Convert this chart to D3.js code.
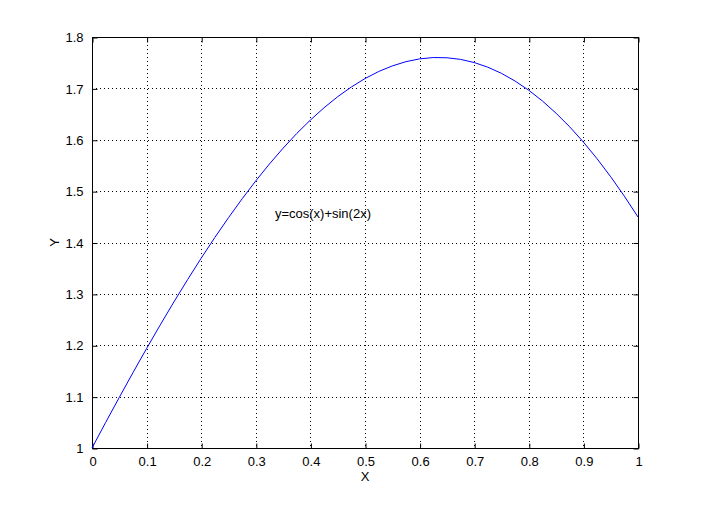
<!DOCTYPE html>
<html><head><meta charset="utf-8">
<script src="https://cdn.jsdelivr.net/npm/d3@7"></script>
<style>body{margin:0;background:#fff}svg{display:block}text{font-family:Arial,"Liberation Sans",Helvetica,sans-serif}</style>
</head><body><svg id="c" width="705" height="505"></svg>
<script>
const xValues=[0,0.025,0.05,0.075,0.1,0.125,0.15,0.175,0.2,0.225,0.25,0.275,0.3,0.325,0.35,0.375,0.4,0.425,0.45,0.475,0.5,0.525,0.55,0.575,0.6,0.625,0.65,0.675,0.7,0.725,0.75,0.775,0.8,0.825,0.85,0.875,0.9,0.925,0.95,0.975,1.0];
const yValues=[1.0,1.0497,1.0986,1.1466,1.1937,1.2396,1.2843,1.3276,1.3695,1.4098,1.4483,1.4851,1.5200,1.5528,1.5836,1.6122,1.6384,1.6623,1.6838,1.7027,1.7191,1.7328,1.7437,1.7520,1.7574,1.7600,1.7596,1.7564,1.7503,1.7412,1.7292,1.7142,1.6963,1.6754,1.6516,1.6250,1.5955,1.5631,1.5280,1.4902,1.4496];
const xTicks=[0,0.1,0.2,0.3,0.4,0.5,0.6,0.7,0.8,0.9,1];
const yTicks=[1,1.1,1.2,1.3,1.4,1.5,1.6,1.7,1.8];
const xTickLabels=["0","0.1","0.2","0.3","0.4","0.5","0.6","0.7","0.8","0.9","1"];
const yTickLabels=["1","1.1","1.2","1.3","1.4","1.5","1.6","1.7","1.8"];
const annotation={text:"y=cos(x)+sin(2x)",x:0.335,y:1.457};

const L=92,R=638,T=37,B=448;
const svg=d3.select("#c");
const x=d3.scaleLinear().domain([0,1]).range([L,R]);
const y=d3.scaleLinear().domain([1,1.8]).range([B,T]);
const g=svg.append("g");
// grid
g.selectAll(".gx").data(xTicks.slice(1,-1)).join("line")
 .attr("x1",d=>Math.round(x(d))+0.5).attr("x2",d=>Math.round(x(d))+0.5).attr("y1",T).attr("y2",B)
 .attr("stroke","#000").attr("stroke-width",1).attr("stroke-dasharray","1,3");
g.selectAll(".gy").data(yTicks.slice(1,-1)).join("line")
 .attr("y1",d=>Math.round(y(d))+0.5).attr("y2",d=>Math.round(y(d))+0.5).attr("x1",L).attr("x2",R)
 .attr("stroke","#000").attr("stroke-width",1).attr("stroke-dasharray","1,3");
// axes
const fmtX=(d,i)=>xTickLabels[i], fmtY=(d,i)=>yTickLabels[i];
function styleAxis(a){a.select(".domain").remove();a.selectAll("line").attr("stroke","#000");a.selectAll("text").attr("font-size","13px").attr("fill","#000");}
svg.append("g").attr("transform",`translate(0.5,${B+0.5})`).call(d3.axisBottom(x).tickValues(xTicks).tickFormat(fmtX).tickSizeInner(-5).tickSizeOuter(0).tickPadding(8)).call(styleAxis);
svg.append("g").attr("transform",`translate(0.5,${T+0.5})`).call(d3.axisTop(x).tickValues(xTicks).tickFormat("").tickSizeInner(-5).tickSizeOuter(0)).call(styleAxis);
svg.append("g").attr("transform",`translate(${L+0.5},0.5)`).call(d3.axisLeft(y).tickValues(yTicks).tickFormat(fmtY).tickSizeInner(-5).tickSizeOuter(0).tickPadding(9)).call(styleAxis);
svg.append("g").attr("transform",`translate(${R+0.5},0.5)`).call(d3.axisRight(y).tickValues(yTicks).tickFormat("").tickSizeInner(-5).tickSizeOuter(0)).call(styleAxis);
svg.append("rect").attr("x",L+0.5).attr("y",T+0.5).attr("width",R-L).attr("height",B-T).attr("fill","none").attr("stroke","#000");
// line
svg.append("path").datum(xValues.map((d,i)=>[d,yValues[i]]))
 .attr("d",d3.line().x(d=>x(d[0])).y(d=>y(d[1])))
 .attr("fill","none").attr("stroke","#0000ff").attr("stroke-width",1);
// labels
svg.append("text").attr("x",x(annotation.x)).attr("y",y(annotation.y)).attr("dy","0.35em").attr("font-size","13px").text(annotation.text);
svg.append("text").attr("x",(L+R)/2).attr("y",481).attr("text-anchor","middle").attr("font-size","13px").text("X");
svg.append("text").attr("transform",`translate(59,${(T+B)/2}) rotate(-90)`).attr("text-anchor","middle").attr("font-size","13px").text("Y");
</script></body></html>
